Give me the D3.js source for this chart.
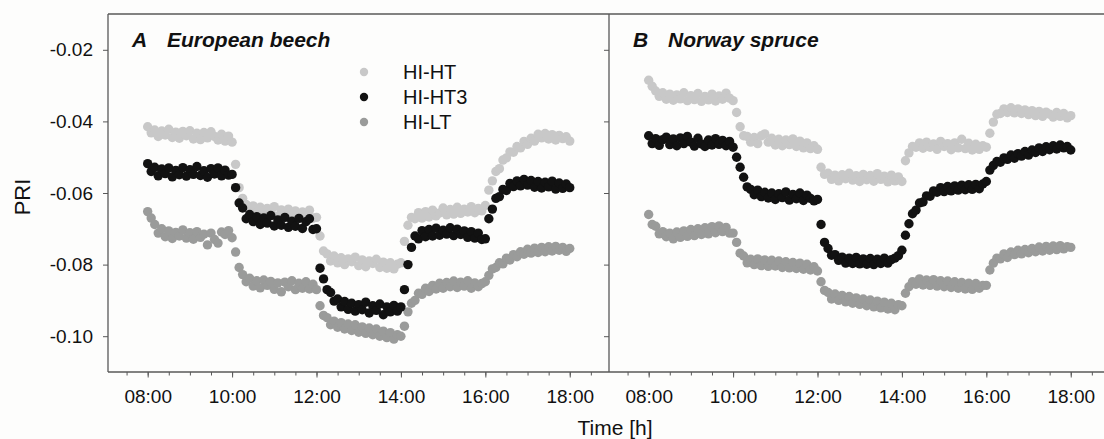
<!DOCTYPE html>
<html lang="en">
<head>
<meta charset="UTF-8">
<title>PRI time course</title>
<script src="https://cdn.jsdelivr.net/npm/d3@7"></script>
<style>
  body { margin: 0; background: #fdfdfc; }
  text { font-family: "Liberation Sans", Arial, sans-serif; fill: #111; }
</style>
</head>
<body>
<svg width="1104" height="439"></svg>
<script>
// series names, tick labels
const seriesNames = ["HI-HT", "HI-HT3", "HI-LT"];
const panelTitles = [["A", "European beech"], ["B", "Norway spruce"]];
const xTickHours = [8, 10, 12, 14, 16, 18];
const yTickValues = [-0.02, -0.04, -0.06, -0.08, -0.10];

// sampling every 5 min from 08:00 to 18:00 (121 readings)
const sampleTimes = d3.range(121).map(i => 8 + i * 5 / 60);

// A  European beech
const beechHT = [
  -0.0415,-0.0432,-0.0424,-0.0442,-0.0427,-0.0438,-0.0422,-0.0445,-0.0430,-0.0447,-0.0428,-0.0440,-0.0426,-0.0449,-0.0433,-0.0451,-0.0431,-0.0446,-0.0429,-0.0442,-0.0452,-0.0436,-0.0455,-0.0441,
  -0.0458,-0.0520,-0.0585,-0.0615,-0.0632,-0.0650,-0.0636,-0.0655,-0.0640,-0.0661,-0.0643,-0.0652,-0.0638,-0.0664,-0.0647,-0.0668,-0.0645,-0.0660,-0.0650,-0.0671,-0.0653,-0.0664,-0.0648,-0.0670,
  -0.0668,-0.0720,-0.0762,-0.0770,-0.0790,-0.0776,-0.0795,-0.0781,-0.0800,-0.0784,-0.0792,-0.0779,-0.0803,-0.0787,-0.0806,-0.0790,-0.0797,-0.0785,-0.0808,-0.0793,-0.0810,-0.0795,-0.0812,-0.0799,
  -0.0795,-0.0735,-0.0690,-0.0668,-0.0672,-0.0655,-0.0670,-0.0652,-0.0667,-0.0648,-0.0664,-0.0656,-0.0642,-0.0661,-0.0646,-0.0659,-0.0640,-0.0657,-0.0645,-0.0653,-0.0638,-0.0655,-0.0643,-0.0650,
  -0.0635,-0.0592,-0.0566,-0.0540,-0.0532,-0.0508,-0.0502,-0.0485,-0.0486,-0.0470,-0.0474,-0.0456,-0.0464,-0.0447,-0.0455,-0.0436,-0.0446,-0.0434,-0.0449,-0.0437,-0.0452,-0.0439,-0.0448,-0.0443,-0.0455
];
const beechHT3 = [
  -0.0518,-0.0540,-0.0528,-0.0552,-0.0533,-0.0546,-0.0530,-0.0555,-0.0537,-0.0549,-0.0529,-0.0553,-0.0535,-0.0548,-0.0526,-0.0551,-0.0538,-0.0556,-0.0532,-0.0547,-0.0530,-0.0552,-0.0536,-0.0550,
  -0.0548,-0.0585,-0.0628,-0.0642,-0.0672,-0.0660,-0.0680,-0.0666,-0.0688,-0.0670,-0.0684,-0.0663,-0.0692,-0.0675,-0.0690,-0.0668,-0.0696,-0.0679,-0.0693,-0.0671,-0.0699,-0.0680,-0.0672,-0.0702,
  -0.0700,-0.0810,-0.0840,-0.0870,-0.0878,-0.0902,-0.0896,-0.0918,-0.0903,-0.0925,-0.0908,-0.0930,-0.0912,-0.0926,-0.0905,-0.0935,-0.0915,-0.0928,-0.0910,-0.0940,-0.0918,-0.0932,-0.0914,-0.0930,
  -0.0918,-0.0870,-0.0800,-0.0752,-0.0720,-0.0728,-0.0705,-0.0722,-0.0702,-0.0720,-0.0698,-0.0718,-0.0704,-0.0715,-0.0697,-0.0719,-0.0701,-0.0716,-0.0706,-0.0724,-0.0708,-0.0726,-0.0712,-0.0730,
  -0.0728,-0.0672,-0.0645,-0.0615,-0.0610,-0.0590,-0.0593,-0.0573,-0.0582,-0.0566,-0.0580,-0.0562,-0.0578,-0.0565,-0.0584,-0.0568,-0.0586,-0.0570,-0.0583,-0.0567,-0.0589,-0.0572,-0.0587,-0.0575,-0.0585
];
const beechLT = [
  -0.0652,-0.0670,-0.0688,-0.0712,-0.0700,-0.0722,-0.0706,-0.0727,-0.0710,-0.0720,-0.0703,-0.0726,-0.0711,-0.0729,-0.0708,-0.0724,-0.0715,-0.0745,-0.0712,-0.0730,-0.0740,-0.0709,-0.0716,-0.0705,
  -0.0725,-0.0765,-0.0808,-0.0828,-0.0848,-0.0838,-0.0860,-0.0845,-0.0865,-0.0843,-0.0858,-0.0847,-0.0869,-0.0851,-0.0876,-0.0849,-0.0862,-0.0845,-0.0870,-0.0852,-0.0866,-0.0848,-0.0868,-0.0855,
  -0.0870,-0.0915,-0.0942,-0.0948,-0.0968,-0.0958,-0.0975,-0.0962,-0.0980,-0.0966,-0.0984,-0.0968,-0.0989,-0.0974,-0.0992,-0.0977,-0.0996,-0.0980,-0.1000,-0.0986,-0.1004,-0.0990,-0.1008,-0.0996,
  -0.1000,-0.0972,-0.0932,-0.0908,-0.0900,-0.0880,-0.0883,-0.0866,-0.0875,-0.0858,-0.0868,-0.0852,-0.0866,-0.0850,-0.0862,-0.0846,-0.0864,-0.0849,-0.0860,-0.0845,-0.0866,-0.0851,-0.0862,-0.0853,
  -0.0848,-0.0830,-0.0812,-0.0808,-0.0795,-0.0798,-0.0782,-0.0787,-0.0772,-0.0778,-0.0764,-0.0771,-0.0757,-0.0768,-0.0754,-0.0766,-0.0752,-0.0764,-0.0750,-0.0762,-0.0749,-0.0760,-0.0752,-0.0763,-0.0755
];

// B  Norway spruce
const spruceHT = [
  -0.0285,-0.0302,-0.0315,-0.0330,-0.0320,-0.0338,-0.0324,-0.0341,-0.0326,-0.0337,-0.0320,-0.0342,-0.0328,-0.0339,-0.0322,-0.0344,-0.0330,-0.0340,-0.0324,-0.0343,-0.0329,-0.0338,-0.0321,-0.0335,
  -0.0342,-0.0375,-0.0415,-0.0440,-0.0442,-0.0458,-0.0445,-0.0462,-0.0440,-0.0435,-0.0458,-0.0447,-0.0466,-0.0450,-0.0468,-0.0452,-0.0465,-0.0449,-0.0470,-0.0455,-0.0474,-0.0460,-0.0476,-0.0468,
  -0.0478,-0.0528,-0.0548,-0.0545,-0.0562,-0.0550,-0.0566,-0.0549,-0.0560,-0.0545,-0.0564,-0.0552,-0.0568,-0.0548,-0.0563,-0.0551,-0.0567,-0.0546,-0.0562,-0.0553,-0.0569,-0.0550,-0.0566,-0.0555,
  -0.0568,-0.0510,-0.0488,-0.0470,-0.0472,-0.0460,-0.0475,-0.0458,-0.0472,-0.0463,-0.0478,-0.0456,-0.0470,-0.0462,-0.0479,-0.0460,-0.0474,-0.0450,-0.0476,-0.0461,-0.0480,-0.0464,-0.0478,-0.0468,
  -0.0472,-0.0433,-0.0402,-0.0380,-0.0378,-0.0365,-0.0375,-0.0362,-0.0376,-0.0365,-0.0378,-0.0368,-0.0381,-0.0370,-0.0384,-0.0372,-0.0386,-0.0374,-0.0380,-0.0388,-0.0375,-0.0386,-0.0378,-0.0390,-0.0384
];
const spruceHT3 = [
  -0.0440,-0.0462,-0.0448,-0.0467,-0.0451,-0.0444,-0.0465,-0.0449,-0.0468,-0.0446,-0.0462,-0.0442,-0.0458,-0.0469,-0.0447,-0.0463,-0.0470,-0.0452,-0.0466,-0.0448,-0.0464,-0.0453,-0.0468,-0.0456,
  -0.0472,-0.0500,-0.0528,-0.0556,-0.0583,-0.0590,-0.0605,-0.0592,-0.0610,-0.0598,-0.0614,-0.0600,-0.0618,-0.0602,-0.0613,-0.0597,-0.0620,-0.0604,-0.0616,-0.0600,-0.0621,-0.0606,-0.0615,-0.0622,
  -0.0618,-0.0688,-0.0738,-0.0755,-0.0774,-0.0772,-0.0788,-0.0779,-0.0796,-0.0782,-0.0797,-0.0780,-0.0798,-0.0784,-0.0799,-0.0783,-0.0800,-0.0785,-0.0797,-0.0782,-0.0796,-0.0786,-0.0782,-0.0775,
  -0.0760,-0.0718,-0.0686,-0.0658,-0.0648,-0.0628,-0.0625,-0.0608,-0.0609,-0.0594,-0.0598,-0.0585,-0.0596,-0.0582,-0.0594,-0.0580,-0.0592,-0.0578,-0.0591,-0.0577,-0.0590,-0.0576,-0.0588,-0.0575,
  -0.0568,-0.0536,-0.0523,-0.0512,-0.0514,-0.0502,-0.0506,-0.0494,-0.0503,-0.0490,-0.0497,-0.0484,-0.0494,-0.0480,-0.0487,-0.0474,-0.0484,-0.0471,-0.0479,-0.0468,-0.0477,-0.0466,-0.0474,-0.0470,-0.0480
];
const spruceLT = [
  -0.0660,-0.0688,-0.0693,-0.0714,-0.0708,-0.0722,-0.0712,-0.0728,-0.0709,-0.0724,-0.0706,-0.0721,-0.0702,-0.0719,-0.0700,-0.0716,-0.0697,-0.0714,-0.0694,-0.0711,-0.0692,-0.0708,-0.0696,-0.0712,
  -0.0712,-0.0738,-0.0768,-0.0776,-0.0795,-0.0785,-0.0800,-0.0784,-0.0803,-0.0787,-0.0805,-0.0788,-0.0804,-0.0790,-0.0808,-0.0792,-0.0809,-0.0794,-0.0811,-0.0796,-0.0813,-0.0799,-0.0815,-0.0806,
  -0.0818,-0.0848,-0.0872,-0.0878,-0.0896,-0.0882,-0.0900,-0.0886,-0.0904,-0.0889,-0.0908,-0.0893,-0.0911,-0.0896,-0.0915,-0.0899,-0.0918,-0.0902,-0.0921,-0.0905,-0.0924,-0.0908,-0.0926,-0.0912,
  -0.0915,-0.0880,-0.0862,-0.0848,-0.0855,-0.0840,-0.0857,-0.0843,-0.0858,-0.0842,-0.0860,-0.0845,-0.0862,-0.0846,-0.0864,-0.0848,-0.0866,-0.0850,-0.0868,-0.0852,-0.0869,-0.0853,-0.0866,-0.0858,
  -0.0858,-0.0815,-0.0796,-0.0782,-0.0784,-0.0770,-0.0780,-0.0765,-0.0772,-0.0760,-0.0770,-0.0758,-0.0767,-0.0755,-0.0764,-0.0751,-0.0762,-0.0749,-0.0760,-0.0748,-0.0758,-0.0747,-0.0756,-0.0750,-0.0752
];

const panels = [
  { title: panelTitles[0], series: [beechHT, beechHT3, beechLT], left: 108 },
  { title: panelTitles[1], series: [spruceHT, spruceHT3, spruceLT], left: 609 }
];

const colors = { "HI-HT": "#c8c8c8", "HI-HT3": "#121212", "HI-LT": "#9a9b9a" };
const drawOrder = [0, 2, 1]; // light gray, mid gray, black on top

const plotTop = 14, plotBottom = 372, panelW = 501;
const frameColor = "#585858";

const svg = d3.select("svg");

const y = d3.scaleLinear().domain([-0.11, -0.01]).range([plotBottom, plotTop]);
const fmtHour = h => String(h).padStart(2, "0") + ":00";

panels.forEach((p, pi) => {
  const x = d3.scaleLinear().domain([7.06, 18.93]).range([p.left, p.left + panelW]);
  const g = svg.append("g");

  // clip points to the panel
  const clipId = "clip" + pi;
  svg.append("clipPath").attr("id", clipId)
    .append("rect").attr("x", p.left).attr("y", plotTop).attr("width", panelW).attr("height", plotBottom - plotTop);

  const pts = g.append("g").attr("clip-path", "url(#" + clipId + ")");
  drawOrder.forEach(si => {
    const name = seriesNames[si];
    pts.append("g").selectAll("circle")
      .data(p.series[si].map((v, i) => [sampleTimes[i], v]))
      .enter().append("circle")
      .attr("cx", d => x(d[0]))
      .attr("cy", d => y(d[1]))
      .attr("r", 4.7)
      .attr("fill", colors[name]);
  });

  // x axis: major 2 h ticks, minor 30 min ticks
  const xMinor = g.append("g").attr("transform", "translate(0," + plotBottom + ")")
    .call(d3.axisBottom(x).tickValues(d3.range(7.5, 19.0, 0.5)).tickSize(3.5).tickFormat(""));
  xMinor.select(".domain").remove();
  const xAxis = g.append("g").attr("transform", "translate(0," + plotBottom + ")")
    .call(d3.axisBottom(x).tickValues(xTickHours).tickSize(5.5).tickPadding(12).tickFormat(fmtHour));
  xAxis.select(".domain").remove();
  xAxis.selectAll("text").attr("font-size", 19).attr("font-family", "Liberation Sans, Arial, sans-serif").attr("fill", "#111");
  g.selectAll(".tick line").attr("stroke", frameColor);

  // y axis
  const yAxis = g.append("g").attr("transform", "translate(" + p.left + ",0)")
    .call(d3.axisLeft(y).tickValues(yTickValues).tickSize(5).tickPadding(10)
      .tickFormat(pi === 0 ? (d => d.toFixed(2)) : ""));
  yAxis.select(".domain").remove();
  yAxis.selectAll("line").attr("stroke", frameColor);
  yAxis.selectAll("text").attr("font-size", 19).attr("font-family", "Liberation Sans, Arial, sans-serif").attr("fill", "#111");

  // panel title
  const t = g.append("text").attr("y", 47).attr("font-size", 21)
    .attr("font-weight", "bold").attr("font-style", "italic");
  t.append("tspan").attr("x", p.left + 24).text(p.title[0]);
  t.append("tspan").attr("x", p.left + 59).text(p.title[1]);
});

// frame lines
const frame = svg.append("g").attr("stroke", frameColor).attr("stroke-width", 1.3).attr("fill", "none");
frame.append("line").attr("x1", 108).attr("x2", 1104).attr("y1", plotTop).attr("y2", plotTop);
frame.append("line").attr("x1", 108).attr("x2", 1104).attr("y1", plotBottom).attr("y2", plotBottom);
frame.append("line").attr("x1", 108).attr("x2", 108).attr("y1", plotTop).attr("y2", plotBottom);
frame.append("line").attr("x1", 609).attr("x2", 609).attr("y1", plotTop).attr("y2", plotBottom);

// legend
const legend = svg.append("g");
seriesNames.forEach((name, i) => {
  const ly = 72 + i * 25;
  legend.append("circle").attr("cx", 364).attr("cy", ly).attr("r", 4.2).attr("fill", colors[name]);
  legend.append("text").attr("x", 403).attr("y", ly).attr("dy", "0.35em")
    .attr("font-size", 20).text(name);
});

// axis titles
svg.append("text").attr("transform", "translate(30,197) rotate(-90)")
  .attr("text-anchor", "middle").attr("font-size", 22).text("PRI");
svg.append("text").attr("x", 615).attr("y", 435)
  .attr("text-anchor", "middle").attr("font-size", 21).text("Time [h]");
</script>
</body>
</html>
